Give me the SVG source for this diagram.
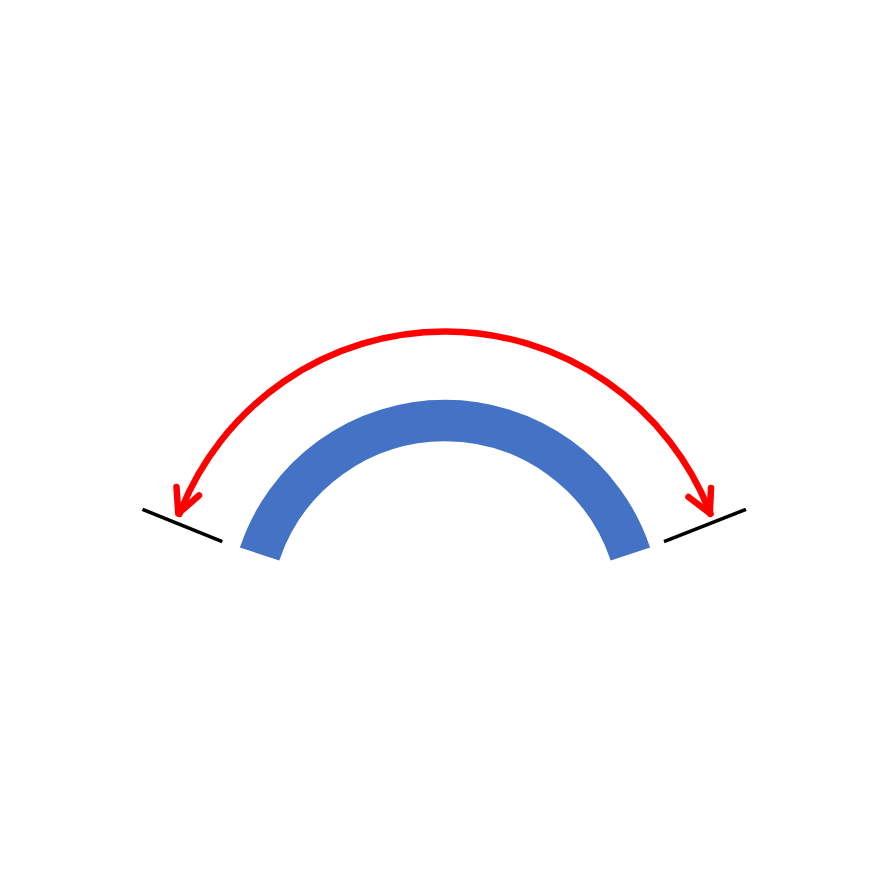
<svg xmlns="http://www.w3.org/2000/svg" width="890" height="890" viewBox="0 0 890 890">
<style>
.band{fill:none;stroke:#4472C4;stroke-width:41.5;stroke-linecap:butt}
.arrow{fill:none;stroke:#FF0000;stroke-width:6.5;stroke-linecap:round;stroke-linejoin:round}
.tick{fill:none;stroke:#000000;stroke-width:3.5;stroke-linecap:butt}
</style>
<rect width="890" height="890" fill="#FFFFFF"/>
<g id="band">
<path class="band" d="M259.6,554 A195.5,195.5 0 0 1 630.4,554"/>
</g>
<g id="ticks">
<line class="tick" x1="142.5" y1="509.3" x2="222.3" y2="541.7"/>
<line class="tick" x1="664" y1="541.7" x2="746" y2="509.3"/>
</g>
<g id="connectors">
<path class="arrow" d="M179.4,514 A284.5,284.5 0 0 1 710.6,514"/>
<polyline class="arrow" points="176.5,487 178.3,513.5 199,495.5"/>
<polyline class="arrow" points="688.5,497 709.8,513.2 711,488"/>
</g>
</svg>
